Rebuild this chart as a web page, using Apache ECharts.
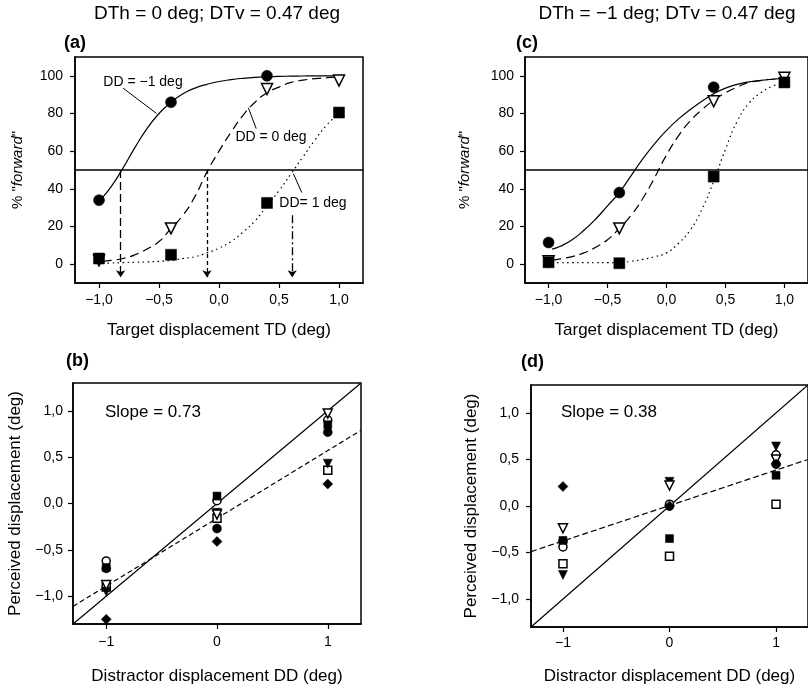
<!DOCTYPE html>
<html>
<head>
<meta charset="utf-8">
<script src="https://cdn.jsdelivr.net/npm/echarts@6/dist/echarts.min.js"></script>
<style>
  html, body { margin: 0; padding: 0; background: #fff; }
  #chart { width: 808px; height: 689px; }
</style>
</head>
<body>
<div id="chart"></div>
<script>
// ---- values ----
const tdLevels = [-1.0, -0.4, 0.4, 1.0];
const ddLevels = [-1, 0, 1];
const pctTicks = [0, 20, 40, 60, 80, 100];
const tdTicks = [-1, -0.5, 0, 0.5, 1];
const pdTicks = [-1, -0.5, 0, 0.5, 1];
const ddTicks = [-1, 0, 1];

// (a) DTh = 0 deg: observed % "forward"
const aObsM1 = [34, 86, 100, null];
const aObs0 = [2, 19, 93, 97.5];
const aObsP1 = [3, 5, 32.5, 80.5];
// (c) DTh = -1 deg
const cObsM1 = [11.5, 38, 94, null];
const cObs0 = [1.5, 19, 86.5, 99];
const cObsP1 = [1, 0.5, 46.5, 96.5];

// fitted psychometric curves, sampled along the drawn curves
const fitX = [-0.97, -0.9, -0.8, -0.7, -0.6, -0.5, -0.4, -0.3, -0.2, -0.1, 0, 0.1, 0.2, 0.3, 0.4, 0.5, 0.6, 0.7, 0.8, 0.9, 1.0];
const aFitM1 = [35.5, 41, 51, 62, 72, 80, 86, 90.5, 93.5, 95.5, 97, 98, 98.7, 99.2, 99.5, 99.7, 99.8, 99.9, 100, 100, 100];
const aFit0 = [1.5, 2, 3, 5, 8, 12, 19, 26, 36, 49, 60, 70, 79, 86, 91, 94, 96.5, 97.7, 98.5, 99, 99.5];
const aFitP1 = [0.5, 0.6, 0.8, 1, 1.2, 1.5, 2, 3, 4, 6, 8.5, 12, 17, 23, 31, 39, 48, 57, 66, 74, 80];
const cFitM1 = [8, 9.5, 13, 18, 24, 31, 38, 47, 56, 64, 71, 77, 82, 86.5, 90.5, 93.5, 95.5, 96.8, 97.6, 98.2, 98.6];
const cFit0 = [2, 2.8, 4, 6, 9, 13, 19, 26, 35, 46, 58, 68, 76, 82, 87, 91, 94, 96.5, 97.5, 98.2, 98.6];
const cFitP1 = [0.8, 0.8, 0.8, 0.8, 0.8, 0.8, 0.8, 1.5, 2.5, 4, 6, 11, 18, 29, 44, 61, 76, 85.5, 91, 94.5, 96.5];

// 50 % crossings marked with arrows in (a)
const arrowX = [-0.82, -0.1, 0.61];
const arrowTop = [50, 50, 26];
const arrowBottom = -7;

// (b) perceived displacement, DTh = 0 deg
const bFilledCircle = [-0.70, -0.27, 0.77];
const bOpenCircle = [-0.62, 0.03, 0.90];
const bFilledSquare = [-0.69, 0.08, 0.85];
const bOpenSquare = [-0.90, -0.16, 0.36];
const bFilledTri = [-0.95, -0.10, 0.43];
const bOpenTri = [-0.88, -0.12, 0.97];
const bDiamond = [-1.25, -0.41, 0.21];
const bFit = [[-1.3, -1.11], [1.3, 0.79]];

// (d) DTh = -1 deg
const dFilledCircle = [-0.38, 0.0, 0.45];
const dOpenCircle = [-0.44, 0.02, 0.55];
const dFilledSquare = [-0.37, -0.35, 0.33];
const dOpenSquare = [-0.62, -0.54, 0.02];
const dFilledTri = [-0.74, 0.26, 0.64];
const dOpenTri = [-0.24, 0.22, 0.50];
const dDiamond = [0.21, 0.0, 0.45];
const dFit = [[-1.3, -0.49], [1.3, 0.50]];

const idLine = [-1.3, 1.3];

// ---- helpers ----
const FONT = '"Liberation Sans", Arial, sans-serif';
const INK = '#000';

function decimal(v) {
  return v.toFixed(1).replace('.', ',').replace('-', '\u2212');
}
function integer(v) {
  return String(v).replace('-', '\u2212');
}
function pairs(xs, ys) {
  return xs.map((x, i) => [x, ys[i]]).filter(p => p[1] !== null);
}

function valueAxis(gridIndex, min, max, ticks, fmt, margin, extra) {
  return Object.assign({
    type: 'value',
    gridIndex: gridIndex,
    min: min,
    max: max,
    splitLine: { show: false },
    axisLine: { show: true, onZero: false, lineStyle: { color: INK, width: 1.5 } },
    axisTick: { show: true, length: 5, customValues: ticks, lineStyle: { color: INK, width: 1.2 } },
    axisLabel: { customValues: ticks, formatter: fmt, color: INK, fontSize: 14, fontFamily: FONT, margin: margin },
    nameLocation: 'middle',
    nameTextStyle: { color: INK, fontSize: 17, fontFamily: FONT }
  }, extra || {});
}

const gridBox = { show: true, borderColor: INK, borderWidth: 1.5, backgroundColor: 'transparent' };

function marker(idx, data, symbol, filled, size, rotate) {
  return {
    type: 'scatter',
    xAxisIndex: idx,
    yAxisIndex: idx,
    data: data,
    symbol: symbol,
    symbolSize: size,
    symbolRotate: rotate || 0,
    itemStyle: filled
      ? { color: INK, borderColor: INK, borderWidth: 0.5, opacity: 1 }
      : { color: '#fff', borderColor: INK, borderWidth: 1.5, opacity: 1 },
    z: 5,
    silent: true
  };
}

function curve(idx, ys, type, dash, extra) {
  return Object.assign({
    type: 'line',
    xAxisIndex: idx,
    yAxisIndex: idx,
    data: pairs(fitX, ys),
    smooth: true,
    showSymbol: false,
    silent: true,
    lineStyle: { color: INK, width: 1.2, type: dash || type },
    z: 3
  }, extra || {});
}

const halfLine = {
  silent: true,
  symbol: 'none',
  label: { show: false },
  lineStyle: { color: INK, width: 1.5, type: 'solid' },
  data: [{ yAxis: 50 }]
};

function arrowLine(i, dash) {
  return {
    silent: true,
    symbol: ['none', 'arrow'],
    symbolSize: 7,
    label: { show: false },
    lineStyle: { color: INK, width: 1.3, type: dash },
    data: [[{ coord: [arrowX[i], arrowTop[i]] }, { coord: [arrowX[i], arrowBottom] }]]
  };
}

function leader(from, to) {
  return [{ coord: from }, { coord: to }];
}

function scatterSet(idx, fc, oc, fs, os, ft, ot, dm, size) {
  return [
    marker(idx, pairs(ddLevels, fc), 'circle', true, size),
    marker(idx, pairs(ddLevels, oc), 'circle', false, size - 1),
    marker(idx, pairs(ddLevels, fs), 'rect', true, size - 1),
    marker(idx, pairs(ddLevels, os), 'rect', false, size - 1),
    marker(idx, pairs(ddLevels, ft), 'triangle', true, size, 180),
    marker(idx, pairs(ddLevels, ot), 'triangle', false, size, 180),
    marker(idx, pairs(ddLevels, dm), 'diamond', true, size + 1)
  ];
}

function text(s, x, y, size, bold, align) {
  return {
    type: 'text',
    x: x,
    y: y,
    z: 100,
    silent: true,
    style: {
      text: s,
      fill: INK,
      fontSize: size,
      fontFamily: FONT,
      fontWeight: bold ? 'bold' : 'normal',
      align: align || 'center',
      verticalAlign: 'middle'
    }
  };
}

const forwardName = {
  color: INK, fontSize: 15, fontFamily: FONT,
  rich: { i: { fontStyle: 'italic', fontSize: 15, fontFamily: FONT, color: INK } }
};

const option = {
  animation: false,
  backgroundColor: '#fff',
  grid: [
    Object.assign({ left: 75, top: 57, width: 288, height: 226 }, gridBox),
    Object.assign({ left: 525, top: 57, width: 289, height: 226 }, gridBox),
    Object.assign({ left: 73, top: 383, width: 288, height: 241 }, gridBox),
    Object.assign({ left: 531, top: 385, width: 285, height: 242 }, gridBox)
  ],
  xAxis: [
    valueAxis(0, -1.2, 1.2, tdTicks, decimal, 10, { name: 'Target displacement TD (deg)', nameGap: 39 }),
    valueAxis(1, -1.2, 1.2, tdTicks, decimal, 10, { name: 'Target displacement TD (deg)', nameGap: 39 }),
    valueAxis(2, -1.3, 1.3, ddTicks, integer, 11, { name: 'Distractor displacement DD (deg)', nameGap: 44 }),
    valueAxis(3, -1.3, 1.3, ddTicks, integer, 9, { name: 'Distractor displacement DD (deg)', nameGap: 41 })
  ],
  yAxis: [
    valueAxis(0, -10, 110, pctTicks, v => String(v), 12, { name: '% "{i|forward}"', nameGap: 50, nameRotate: 90, nameTextStyle: forwardName }),
    valueAxis(1, -10, 110, pctTicks, v => String(v), 11, { name: '% "{i|forward}"', nameGap: 53, nameRotate: 90, nameTextStyle: forwardName }),
    valueAxis(2, -1.3, 1.3, pdTicks, decimal, 10, { name: 'Perceived displacement (deg)', nameGap: 49, nameRotate: 90 }),
    valueAxis(3, -1.3, 1.3, pdTicks, decimal, 12, { name: 'Perceived displacement (deg)', nameGap: 51, nameRotate: 90 })
  ],
  graphic: [
    text('DTh = 0 deg; DTv = 0.47 deg', 217, 14, 19),
    text('DTh = \u22121 deg; DTv = 0.47 deg', 667, 14, 19),
    text('(a)', 64, 43, 18, true, 'left'),
    text('(c)', 516, 43, 18, true, 'left'),
    text('(b)', 66, 361, 18, true, 'left'),
    text('(d)', 521, 362, 18, true, 'left'),
    text('DD = \u22121 deg', 143, 82, 14),
    text('DD = 0 deg', 271, 137, 14),
    text('DD= 1 deg', 313, 203, 14),
    text('Slope = 0.73', 105, 412, 17, false, 'left'),
    text('Slope = 0.38', 561, 412, 17, false, 'left')
  ],
  series: [
    // (a)
    curve(0, aFitM1, 'solid', null, {
      markLine: halfLine
    }),
    curve(0, aFit0, 'dashed', [9, 5], {
      markLine: {
        silent: true, symbol: 'none', label: { show: false },
        lineStyle: { color: INK, width: 1, type: 'solid' },
        data: [leader([-0.80, 93.5], [-0.52, 80]), leader([0.245, 83], [0.31, 72])]
      }
    }),
    curve(0, aFitP1, 'dotted', [1.5, 3.5], {
      markLine: {
        silent: true, symbol: 'none', label: { show: false },
        lineStyle: { color: INK, width: 1, type: 'solid' },
        data: [leader([0.62, 48], [0.69, 38])]
      }
    }),
    { type: 'line', xAxisIndex: 0, yAxisIndex: 0, data: [], markLine: arrowLine(0, [8, 4]) },
    { type: 'line', xAxisIndex: 0, yAxisIndex: 0, data: [], markLine: arrowLine(1, [4, 3]) },
    { type: 'line', xAxisIndex: 0, yAxisIndex: 0, data: [], markLine: arrowLine(2, [8, 3, 2, 3]) },
    marker(0, pairs(tdLevels, aObs0), 'triangle', false, 11, 180),
    marker(0, pairs(tdLevels, aObsM1), 'circle', true, 11),
    marker(0, pairs(tdLevels, aObsP1), 'rect', true, 11),

    // (c)
    curve(1, cFitM1, 'solid', null, { markLine: halfLine }),
    curve(1, cFit0, 'dashed', [9, 5]),
    curve(1, cFitP1, 'dotted', [1.5, 3.5]),
    marker(1, pairs(tdLevels, cObs0), 'triangle', false, 11, 180),
    marker(1, pairs(tdLevels, cObsM1), 'circle', true, 11),
    marker(1, pairs(tdLevels, cObsP1), 'rect', true, 11),

    // (b)
    { type: 'line', xAxisIndex: 2, yAxisIndex: 2, data: idLine.map(v => [v, v]), showSymbol: false, silent: true,
      lineStyle: { color: INK, width: 1.2 } },
    { type: 'line', xAxisIndex: 2, yAxisIndex: 2, data: bFit, showSymbol: false, silent: true,
      lineStyle: { color: INK, width: 1.2, type: [5, 3] } },
    ...scatterSet(2, bFilledCircle, bOpenCircle, bFilledSquare, bOpenSquare, bFilledTri, bOpenTri, bDiamond, 9),

    // (d)
    { type: 'line', xAxisIndex: 3, yAxisIndex: 3, data: idLine.map(v => [v, v]), showSymbol: false, silent: true,
      lineStyle: { color: INK, width: 1.2 } },
    { type: 'line', xAxisIndex: 3, yAxisIndex: 3, data: dFit, showSymbol: false, silent: true,
      lineStyle: { color: INK, width: 1.2, type: [6, 3] } },
    ...scatterSet(3, dFilledCircle, dOpenCircle, dFilledSquare, dOpenSquare, dFilledTri, dOpenTri, dDiamond, 9)
  ]
};

const chart = echarts.init(document.getElementById('chart'), null, { renderer: 'canvas' });
chart.setOption(option);
</script>
</body>
</html>
